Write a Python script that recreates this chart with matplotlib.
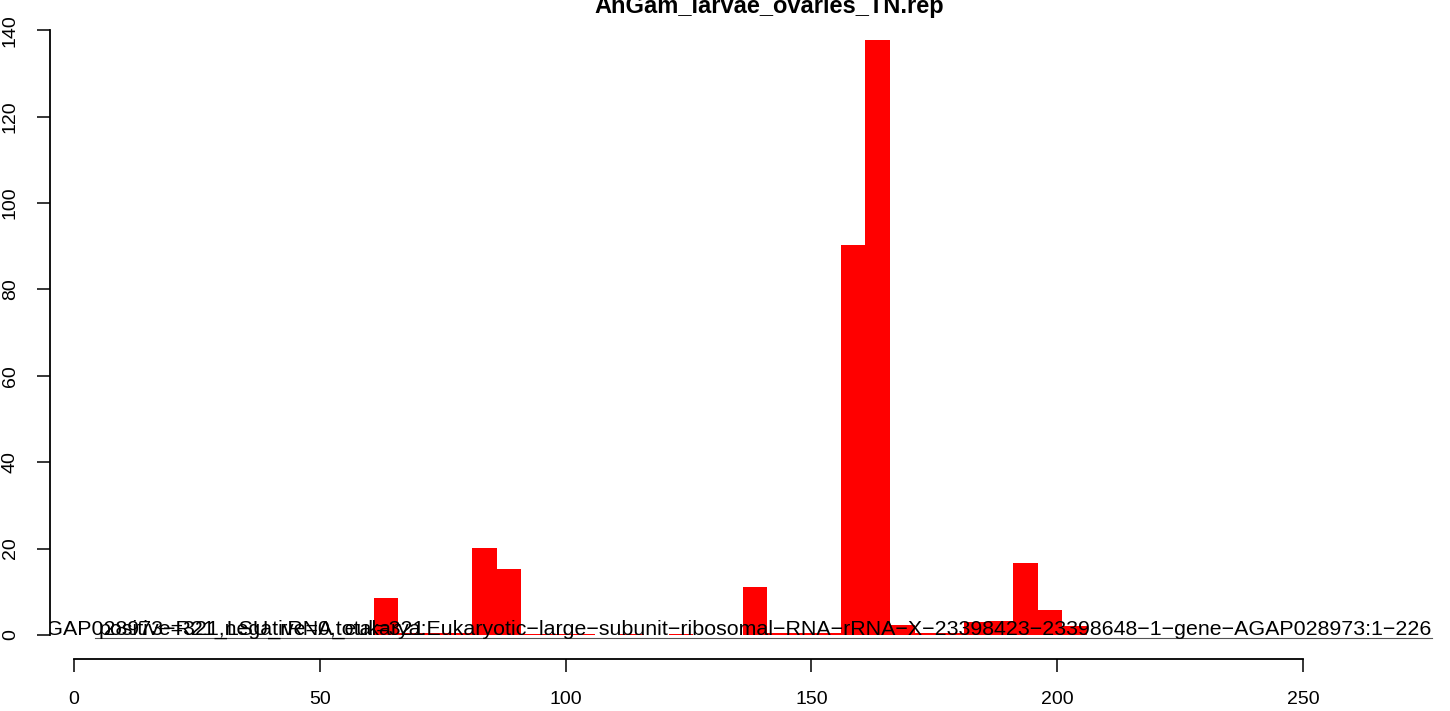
import numpy as np
import matplotlib
matplotlib.use("Agg")
import matplotlib.pyplot as plt

plt.rcParams['font.family'] = ['Liberation Sans', 'DejaVu Sans']

# read counts per 5-nt bin (bin start positions)
bin_start = [61, 66, 71, 76, 81, 86, 91, 96, 101, 111, 121, 136, 141, 146,
             151, 156, 161, 166, 171, 176, 181, 186, 191, 196, 201]
counts = [8.6, 0.5, 0.5, 0.5, 20.2, 15.2, 0.3, 0.3, 0.3, 0.3, 0.3, 11.2, 0.5,
          0.5, 0.5, 90.2, 137.8, 2.4, 0.5, 0.5, 3.0, 3.2, 16.7, 5.7, 2.1]
bin_width = 5

title = "AnGam_larvae_ovaries_TN.rep"
gene_label = ("AGAP028973\u2212R21_LSU_rRNA_eukarya:Eukaryotic\u2212large\u2212subunit"
              "\u2212ribosomal\u2212RNA\u2212rRNA\u2212X\u221223398423\u221223398648"
              "\u22121\u2212gene\u2212AGAP028973:1\u2212226")
stats_label = "positive=321,negative=0,total=321"
xticks = [0, 50, 100, 150, 200, 250]
yticks = [0, 20, 40, 60, 80, 100, 120, 140]

W, H = 1450, 711
fig = plt.figure(figsize=(W / 100, H / 100), dpi=100)

# plot region in pixels (R style, extends a bit past the right edge)
px_l, px_r, px_t, px_b = 50, 1488, 15, 659
ax = fig.add_axes([px_l / W, 1 - px_b / H, (px_r - px_l) / W, (px_b - px_t) / H])

x0, xs = 74, 4.916   # pixel of x=0, pixels per unit
y0, ys = 635, 4.32   # pixel of y=0, pixels per unit
ax.set_xlim((px_l - x0) / xs, (px_r - x0) / xs)
ax.set_ylim((y0 - px_b) / ys, (y0 - px_t) / ys)

ax.bar(bin_start, counts, width=bin_width, align='edge', color='#ff0000',
       linewidth=0)

# thin line under the labels
ax.plot([(95 - x0) / xs, (1432 - x0) / xs], [-0.7, -0.7], color='#555555', lw=0.8)

t1 = ax.text((1432 - x0) / xs, 0, gene_label, ha='right', va='baseline',
             fontsize=15.4, color='black')
t2 = ax.text((99 - x0) / xs, 0, stats_label, ha='left', va='baseline',
             fontsize=15.4, color='black')
for t in (t1, t2):
    t.set_clip_on(True)
    t.set_clip_box(ax.bbox)

for s in ['top', 'right']:
    ax.spines[s].set_visible(False)
ax.spines['left'].set_bounds(0, 140)
ax.spines['bottom'].set_bounds(0, 250)
ax.spines['left'].set_linewidth(1.3)
ax.spines['bottom'].set_linewidth(1.3)

ax.set_xticks(xticks)
ax.set_yticks(yticks)
ax.set_yticklabels([str(v) for v in yticks], rotation=90, va='center')
ax.tick_params(axis='x', length=9.4, width=1.1, pad=14, labelsize=14)
ax.tick_params(axis='y', length=9.4, width=1.1, pad=13, labelsize=14)

fig.text(769 / W, 1 - 13 / H, title, ha='center', va='baseline',
         fontsize=17, fontweight='bold')

fig.savefig("out.png", dpi=100)
